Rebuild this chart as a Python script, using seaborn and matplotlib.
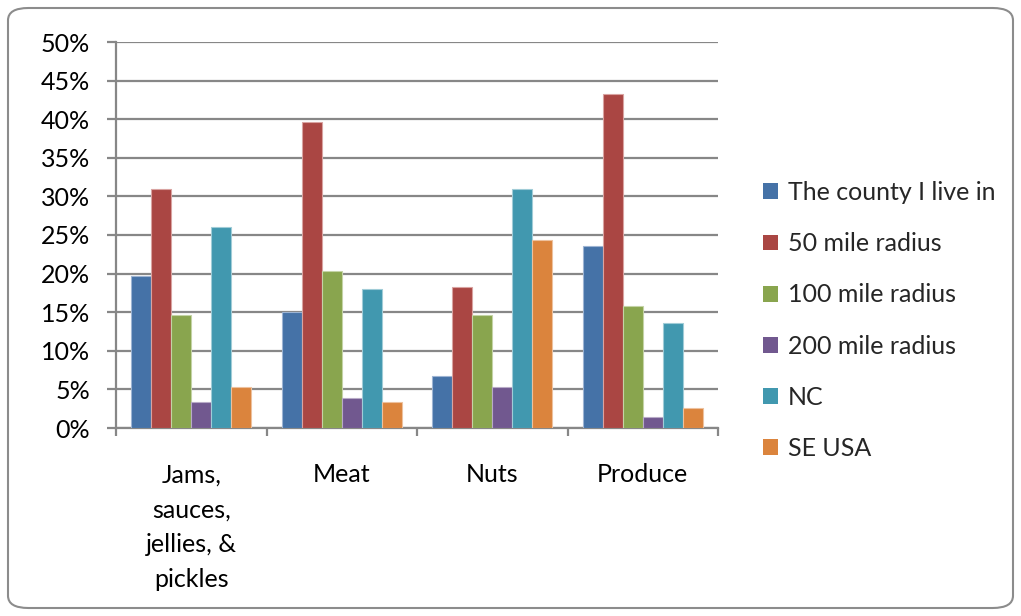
import matplotlib
matplotlib.use("Agg")
import matplotlib.pyplot as plt
from matplotlib.patches import FancyBboxPatch, Patch
from matplotlib.ticker import MultipleLocator, PercentFormatter
import seaborn as sns
import pandas as pd

categories = ["Jams,\nsauces,\njellies, &\npickles", "Meat", "Nuts", "Produce"]
series = ["The county I live in", "50 mile radius", "100 mile radius",
          "200 mile radius", "NC", "SE USA"]
county = [19.7, 15.0, 6.7, 23.6]
radius_50 = [31.0, 39.6, 18.3, 43.2]
radius_100 = [14.7, 20.3, 14.7, 15.8]
radius_200 = [3.4, 3.9, 5.3, 1.4]
nc = [26.0, 18.0, 31.0, 13.6]
se_usa = [5.3, 3.4, 24.4, 2.6]
colors = ["#4572A7", "#AA4643", "#89A54E", "#71588F", "#4198AF", "#DB843D"]
edge_colors = ["#9DB4D3", "#D9A3A1", "#C4D3A6", "#B8ABC7", "#A0CCD7", "#EDC19E"]

values = [county, radius_50, radius_100, radius_200, nc, se_usa]
rows = []
for name, vals in zip(series, values):
    for cat, v in zip(categories, vals):
        rows.append({"category": cat, "series": name, "value": v})
df = pd.DataFrame(rows)

sns.set_style("white")
plt.rcParams["font.family"] = ["Lato", "DejaVu Sans"]
FS = 18

fig = plt.figure(figsize=(10.21, 6.16), dpi=100)
ax = fig.add_axes([116 / 1021, 1 - 428 / 616, 602 / 1021, 386 / 616])

sns.barplot(data=df, x="category", y="value", hue="series", order=categories,
            hue_order=series, palette=colors, width=0.8, ax=ax, legend=False,
            errorbar=None, saturation=1, zorder=3)

# light edge around each bar
for container, ec in zip(ax.containers, edge_colors):
    for bar in container:
        bar.set_edgecolor(ec)
        bar.set_linewidth(0.8)

grid_c = "#878787"
ax.set_ylim(0, 50)
ax.set_xlim(-0.5, 3.5)
ax.yaxis.set_major_locator(MultipleLocator(5))
ax.yaxis.set_major_formatter(PercentFormatter(decimals=0))
ax.yaxis.grid(True, color=grid_c, linewidth=1.6, zorder=0)
ax.set_axisbelow(True)
ax.set_xlabel("")
ax.set_ylabel("")

for side in ["top", "right"]:
    ax.spines[side].set_visible(False)
for side in ["left", "bottom"]:
    ax.spines[side].set_color(grid_c)
    ax.spines[side].set_linewidth(1.6)

ax.tick_params(axis="y", direction="out", length=6.5, width=1.6, color=grid_c,
               labelsize=FS, pad=12, labelcolor="black", left=True)
ax.set_xticks([-0.5, 0.5, 1.5, 2.5, 3.5], minor=True)
ax.tick_params(axis="x", which="minor", direction="out", length=6, width=1.6,
               color=grid_c, bottom=True)
ax.tick_params(axis="x", which="major", length=0, labelsize=FS, pad=25.5,
               labelcolor="black")
for lbl in ax.get_xticklabels():
    lbl.set_linespacing(1.62)
    lbl.set_verticalalignment("top")

handles = [Patch(facecolor=c, edgecolor="none") for c in colors]
fig.legend(handles, series, loc="upper left",
           bbox_to_anchor=(753 / 1021, 1 - 171 / 616), frameon=False,
           fontsize=FS, handlelength=0.6, handleheight=0.6,
           handletextpad=0.4, labelspacing=1.13, borderaxespad=0)

# rounded frame around the whole chart
frame = FancyBboxPatch((8 / 1021, 8 / 616), 1005 / 1021, 600 / 616,
                       boxstyle="round,pad=0,rounding_size=0.02",
                       transform=fig.transFigure, facecolor="none",
                       edgecolor="#8C8C8C", linewidth=1.5)
fig.patches.append(frame)

fig.savefig("out.png", dpi=100)
